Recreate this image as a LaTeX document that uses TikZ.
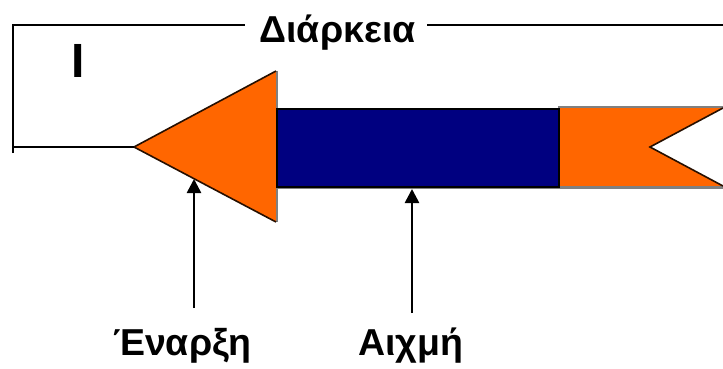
\documentclass[tikz,border=0pt]{standalone}
\usepackage{fontspec}
\setmainfont{Liberation Sans}
\usetikzlibrary{arrows.meta}
\definecolor{orng}{HTML}{FF6600}
\definecolor{navyb}{HTML}{000080}
\definecolor{edgegray}{HTML}{808080}
\begin{document}
\begin{tikzpicture}[x=1pt,y=-1pt,
  lbl/.style={font=\fontsize{37.5}{40}\selectfont\bfseries, inner sep=0pt, anchor=base},
  brk/.style={line width=2.6pt},
  ptr/.style={line width=2.6pt, -{Triangle[length=14pt,width=14pt]}},
  grayedge/.style={draw=edgegray, line width=2.4pt},
  diag/.style={draw=black!85!orng, line width=1.6pt}]
\useasboundingbox (0,0) rectangle (723,369);
% arrow body (orange)
\fill[orng] (134,147) -- (276,71) -- (276,108) -- (723,108) -- (650,147)
  -- (723,186) -- (276,186) -- (276,222) -- cycle;
\draw[grayedge] (277,71) -- (277,108);
\draw[grayedge] (277,186) -- (277,222);
\draw[grayedge] (558,107) -- (723,107);
\draw[grayedge] (276,187.5) -- (723,187.5);
\draw[diag] (276,71) -- (134,147) -- (276,222);
\draw[diag] (723,108) -- (650,147) -- (723,186);
% blue shaft
\node[draw=black, fill=navyb, line width=2.4pt, minimum width=282pt, minimum height=78pt,
  inner sep=0pt, anchor=north west] (shaft) at (276,108) {};
% duration bracket
\node[lbl] (dur) at (337.5,43) {Διάρκεια};
\node[font=\fontsize{48}{50}\selectfont\bfseries, inner sep=0pt] (bar) at (78.5,60.5) {I};
\coordinate (tipp) at (134,147);
\coordinate (bl) at (13,147);
\coordinate (tl) at (13,25);
\coordinate (tm1) at (245,25);
\coordinate (tm2) at (427,25);
\coordinate (tr) at (723,25);
\draw[brk] (tipp) -- (bl);
\draw[brk] (13,153) -- (tl) -- (tm1);
\draw[brk] (tm2) -- (tr);
% labels and pointers
\node[lbl] (ena) at (182.5,355) {Έναρξη};
\node[lbl] (aix) at (410.5,355) {Αιχμή};
\coordinate (p1s) at (194,308);
\coordinate (p1e) at (194,179);
\coordinate (p2s) at (412,313);
\coordinate (p2e) at (412,189);
\draw[ptr] (p1s) -- (p1e);
\draw[ptr] (p2s) -- (p2e);
\end{tikzpicture}
\end{document}
